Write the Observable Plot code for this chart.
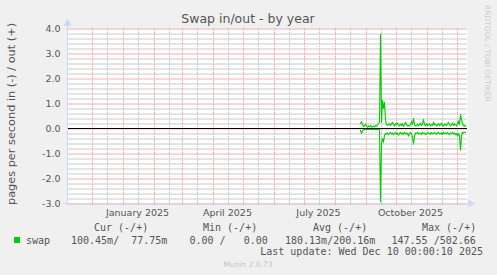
<!DOCTYPE html>
<html><head><meta charset="utf-8">
<script src="https://cdn.jsdelivr.net/npm/d3@7"></script>
<script src="https://cdn.jsdelivr.net/npm/@observablehq/plot@0.6"></script>
<style>
html,body{margin:0;padding:0;background:#f0f0f0;}
#wrap{position:relative;width:497px;height:275px;overflow:hidden;}
#chart,#overlay{position:absolute;left:0;top:0;}
#overlay{pointer-events:none;}
</style></head>
<body><div id="wrap"><div id="chart"></div></div>
<script>
// ---- data ----
const title = "Swap in/out - by year";
const yLabel = "pages per second in (-) / out (+)";
const domainStart = "2024-11-06";
const domainEnd = "2025-12-11";
const firstDay = "2025-08-26"; // one value per day from here
const outValues = [
 0.20,0.27,0.15,0.08,0.12,0.18,0.10,0.05,0.10,0.07,
 0.12,0.05,0.08,0.10,0.06,0.12,0.09,0.15,0.20,0.25,
 3.77,0.25,1.13,0.80,1.05,0.35,0.15,0.13,0.15,0.20,
 0.12,0.18,0.25,0.15,0.10,0.20,0.14,0.22,0.16,0.10,
 0.18,0.12,0.20,0.08,0.15,0.25,0.15,0.10,0.12,0.10,
 0.15,0.27,0.18,0.40,0.15,0.10,0.12,0.18,0.10,0.15,
 0.22,0.12,0.18,0.36,0.15,0.10,0.20,0.12,0.15,0.20,
 0.10,0.15,0.12,0.25,0.15,0.18,0.10,0.14,0.20,0.12,
 0.15,0.22,0.12,0.10,0.18,0.15,0.12,0.20,0.25,0.15,
 0.10,0.15,0.22,0.12,0.18,0.15,0.10,0.20,0.30,0.15,
 0.56,0.35,0.20,0.10,0.12,0.08];
const inValues = [
 -0.07,-0.20,-0.10,-0.03,-0.05,-0.02,-0.04,-0.03,-0.05,-0.02,
 -0.04,-0.03,-0.05,-0.02,-0.04,-0.03,-0.05,-0.03,-0.04,-0.05,
 -2.93,-0.60,-0.40,-0.55,-0.27,-0.20,-0.22,-0.18,-0.25,-0.20,
 -0.15,-0.22,-0.18,-0.25,-0.20,-0.15,-0.23,-0.18,-0.27,-0.20,
 -0.16,-0.22,-0.18,-0.25,-0.15,-0.20,-0.22,-0.18,-0.30,-0.20,
 -0.15,-0.22,-0.35,-0.63,-0.30,-0.18,-0.20,-0.15,-0.22,-0.18,
 -0.20,-0.25,-0.15,-0.20,-0.18,-0.25,-0.22,-0.15,-0.20,-0.18,
 -0.24,-0.16,-0.20,-0.22,-0.15,-0.20,-0.25,-0.18,-0.15,-0.20,
 -0.22,-0.18,-0.25,-0.15,-0.20,-0.18,-0.22,-0.15,-0.20,-0.25,
 -0.18,-0.20,-0.15,-0.22,-0.18,-0.25,-0.20,-0.30,-0.20,-0.30,
 -0.87,-0.30,-0.15,-0.18,-0.15,-0.15];
const yTicks = [-3,-2,-1,0,1,2,3,4];
const xTickDates = ["2025-01-15","2025-04-15","2025-07-15","2025-10-15"];
const xTickLabels = ["January 2025","April 2025","July 2025","October 2025"];
const seriesName = "swap";
const legendHeaders = ["Cur (-/+)","Min (-/+)","Avg (-/+)","Max (-/+)"];
const legendValues = ["100.45m/  77.75m","0.00 /   0.00","180.13m/200.16m","147.55 /502.66"];
const lastUpdate = "Last update: Wed Dec 10 00:00:10 2025";
const footer = "Munin 2.0.73";
const sideText = "RRDTOOL / TOBI OETIKER";

// ---- build ----
const GREEN = "#00cc00", AXIS = "#cfd6f8", FONT = "#555";
const MINOR = "#bdbdbd", MAJOR = "#eb9a9a";
const parse = s => new Date(s + "T00:00:00Z");
const start = parse(domainStart), end = parse(domainEnd);
const day0 = parse(firstDay);
const rows = outValues.map((v, i) => ({date: d3.utcDay.offset(day0, i), out: v, inn: inValues[i]}));
const months = d3.utcMonth.range(start, end);
const midMonths = months.map(d => d3.utcDay.offset(d, 15)).filter(d => d < end);
const minorY = d3.range(-30, 41, 2).map(v => v / 10).filter(v => Math.abs(v - Math.round(v)) > 1e-6);
const tickDates = xTickDates.map(parse);
const labelOf = new Map(tickDates.map((d, i) => [+d, xTickLabels[i]]));
const hGrid = d3.cross(minorY, [start, end]).map(([v, t]) => ({t, v, kind: "minor"}))
  .concat(d3.cross(yTicks, [start, end]).map(([v, t]) => ({t, v, kind: "major"})));

const chart = Plot.plot({
  width: 497, height: 220,
  marginLeft: 67, marginRight: 30, marginTop: 28, marginBottom: 17,
  style: {fontFamily: "DejaVu Sans", background: "transparent", overflow: "visible"},
  x: {type: "utc", domain: [start, end], label: null},
  y: {domain: [-3, 4], label: null},
  marks: [
    Plot.frame({fill: "white", stroke: null}),
    Plot.ruleX(midMonths, {x: d => d, stroke: MINOR, strokeDasharray: "1 1", insetBottom: -2}),
    Plot.line(hGrid.filter(d => d.kind === "minor"), {x: "t", y: "v", z: "v", stroke: "#c4c4c4", strokeWidth: 1, dy: 0.5, strokeDasharray: "1 1"}),
    Plot.line(hGrid.filter(d => d.kind === "major"), {x: "t", y: "v", z: "v", stroke: "#eda8a8", strokeWidth: 1, dy: 0.5, strokeDasharray: "1 1"}),
    Plot.ruleX(months, {x: d => d, stroke: MAJOR, strokeDasharray: "1 1", insetBottom: -2}),
    Plot.lineY(rows, {x: "date", y: "out", stroke: GREEN, strokeWidth: 1.1}),
    Plot.lineY(rows, {x: "date", y: "inn", stroke: GREEN, strokeWidth: 1.1}),
    Plot.ruleY([0], {stroke: "black", strokeWidth: 1}),
    Plot.ruleX([start], {stroke: AXIS, insetTop: -5}),
    Plot.ruleY([-3], {stroke: AXIS, insetLeft: -4, insetRight: -2}),
    Plot.dot([0], {frameAnchor: "top-left", dy: -5, symbol: "triangle", r: 3, fill: AXIS, stroke: null}),
    Plot.dot([0], {frameAnchor: "bottom-right", dx: 3, rotate: 90, symbol: "triangle", r: 3, fill: AXIS, stroke: null}),
    Plot.axisY(yTicks, {tickSize: 0, tickPadding: 7, tickFormat: d => d.toFixed(1), fontSize: 9.5, fill: FONT}),
    Plot.axisX(tickDates, {tickSize: 0, tickPadding: 6, tickFormat: d => labelOf.get(+d), fontSize: 9.5, fill: FONT})
  ]
});
document.getElementById("chart").appendChild(chart);

// ---- surrounding texts (title, y label, legend) ----
const svg = d3.select("#wrap").append("svg").attr("id", "overlay")
  .attr("width", 497).attr("height", 275)
  .attr("xml:space", "preserve")
  .style("font-family", "DejaVu Sans").style("white-space", "pre");
const txt = () => svg.append("text").attr("xml:space", "preserve");
txt().attr("x", 248).attr("y", 23).attr("text-anchor", "middle")
  .attr("font-size", 12.5).attr("fill", FONT).text(title);
txt().attr("transform", "translate(15,114) rotate(-90)").attr("text-anchor", "middle")
  .attr("font-size", 11.3).attr("fill", FONT).text(yLabel);
txt().attr("transform", "translate(485,5) rotate(90)")
  .attr("font-size", 7.5).attr("fill", "#cccccc").text(sideText);
const mono = "DejaVu Sans Mono";
const headerX = [94, 203, 313, 422];
legendHeaders.forEach((h, i) => txt().attr("x", headerX[i]).attr("y", 230.5)
  .attr("font-family", mono).attr("font-size", 10).attr("fill", FONT).text(h));
svg.append("rect").attr("x", 14).attr("y", 237).attr("width", 6).attr("height", 6).attr("fill", GREEN);
txt().attr("x", 26).attr("y", 243.5).attr("font-family", mono).attr("font-size", 10)
  .attr("fill", FONT).text(seriesName);
const valueX = [71, 189.5, 285, 391.5];
legendValues.forEach((v, i) => txt().attr("x", valueX[i]).attr("y", 243.5)
  .attr("font-family", mono).attr("font-size", 10).attr("fill", FONT).text(v));
txt().attr("x", 483).attr("y", 255).attr("text-anchor", "end").attr("font-family", mono)
  .attr("font-size", 10).attr("fill", FONT).text(lastUpdate);
txt().attr("x", 248).attr("y", 266.5).attr("text-anchor", "middle")
  .attr("font-size", 7.5).attr("fill", "#c4c4c4").text(footer);
</script>
</body></html>
